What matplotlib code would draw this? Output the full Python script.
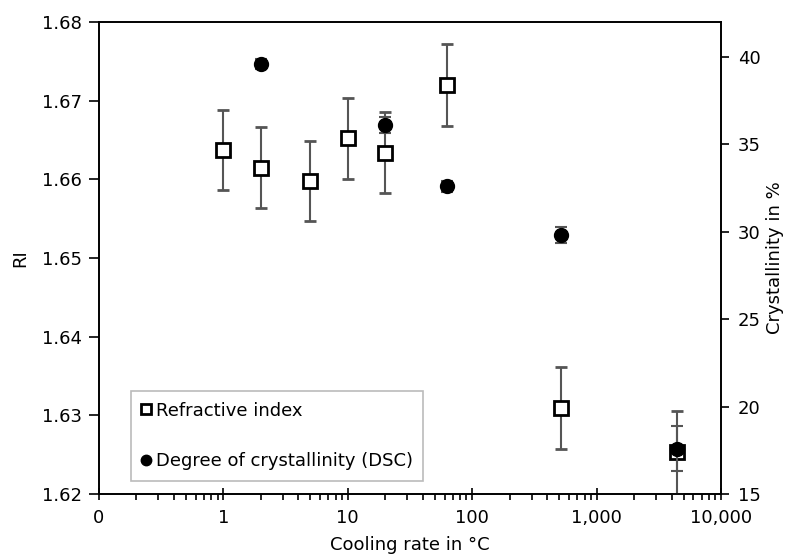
import matplotlib.pyplot as plt
from matplotlib.ticker import FixedLocator, FixedFormatter, LogLocator, NullFormatter

# refractive index
ri_rate = [1, 2, 5, 10, 20, 63, 520, 4400]
ri_val = [1.6637, 1.6615, 1.6598, 1.6652, 1.6634, 1.6720, 1.6309, 1.6253]
ri_err = [0.0051, 0.0052, 0.0051, 0.0052, 0.0051, 0.0052, 0.0052, 0.0053]

# crystallinity (DSC)
dsc_rate = [2, 20, 63, 520, 4400]
dsc_val = [39.6, 36.1, 32.6, 29.8, 17.6]
dsc_err = [0.3, 0.45, 0.3, 0.45, 1.3]

x_ticks = [0.1, 1, 10, 100, 1000, 10000]
x_labels = ["0", "1", "10", "100", "1,000", "10,000"]

plt.rcParams["font.family"] = "DejaVu Sans"
plt.rcParams["font.size"] = 13

fig = plt.figure(figsize=(7.85, 5.57), dpi=100)
ax = fig.add_axes([0.126, 0.1131, 0.7925, 0.8474])
ax2 = ax.twinx()

ecol = "#555555"
h1 = ax.errorbar(ri_rate, ri_val, yerr=ri_err, fmt="s", ms=10, mfc="white",
                 mec="black", mew=2, ecolor=ecol, elinewidth=1.5, capsize=4,
                 capthick=1.5, zorder=3, label="Refractive index")
h2 = ax2.errorbar(dsc_rate, dsc_val, yerr=dsc_err, fmt="o", ms=10, mfc="black",
                  mec="black", ecolor=ecol, elinewidth=1.5, capsize=4,
                  capthick=1.5, zorder=4, label="Degree of crystallinity (DSC)")

ax.set_xscale("log")
ax.set_xlim(0.1, 10000)
ax.xaxis.set_major_locator(FixedLocator(x_ticks))
ax.xaxis.set_major_formatter(FixedFormatter(x_labels))
ax.xaxis.set_minor_locator(LogLocator(base=10, subs=range(2, 10), numticks=20))
ax.xaxis.set_minor_formatter(NullFormatter())
ax.tick_params(axis="x", which="major", direction="inout", length=9, width=1.2, pad=6)
ax.tick_params(axis="x", which="minor", direction="out", length=4, width=1.2)
ax.tick_params(axis="y", direction="out", length=7, width=1.2, pad=5)

ax.set_ylim(1.62, 1.68)
ax.set_yticks([1.62, 1.63, 1.64, 1.65, 1.66, 1.67, 1.68])
ax.set_yticklabels(["1.62", "1.63", "1.64", "1.65", "1.66", "1.67", "1.68"])
ax2.set_ylim(15, 42)
ax2.set_yticks([15, 20, 25, 30, 35, 40])
ax2.tick_params(axis="y", direction="out", length=6, width=1.2, pad=6)

for a in (ax, ax2):
    for s in a.spines.values():
        s.set_linewidth(1.2)

ax.set_xlabel("Cooling rate in °C", labelpad=7)
ax.set_ylabel("RI", labelpad=9)
ax2.set_ylabel("Crystallinity in %", labelpad=4)

leg = ax.legend([h1[0], h2[0]], ["Refractive index", "Degree of crystallinity (DSC)"],
                loc="lower left", bbox_to_anchor=(0.052, 0.028), frameon=True,
                fancybox=False, edgecolor="#aaaaaa", handlelength=0.4,
                handletextpad=0.35, labelspacing=1.78, borderpad=0.6,
                borderaxespad=0, markerscale=0.75)
leg.get_frame().set_linewidth(1.2)
ax2.set_zorder(ax.get_zorder() + 1)
ax.patch.set_visible(True)
ax2.patch.set_visible(False)

fig.savefig("out.png", dpi=100)
